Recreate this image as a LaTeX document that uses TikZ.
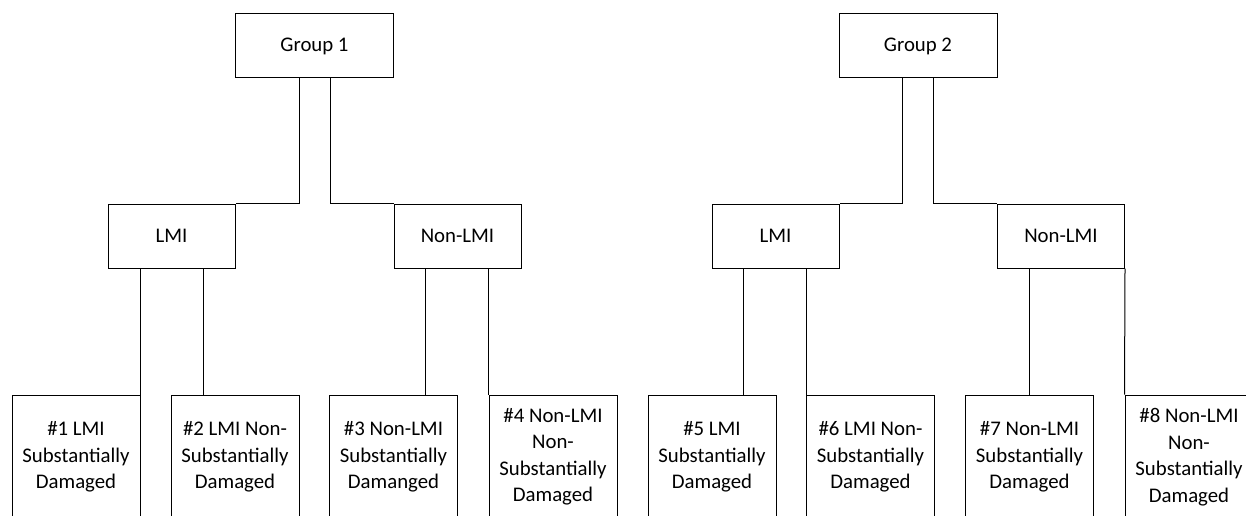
\documentclass[tikz,border=0pt]{standalone}
\usepackage{fontspec}
\setmainfont{Carlito}
\begin{document}
\begin{tikzpicture}[x=1pt,y=-1pt,
  box/.style={draw=black,line width=1pt,fill=white,inner sep=0pt,align=center,
    font=\fontsize{20.8}{26.5}\selectfont},
  topbox/.style={box,minimum width=158pt,minimum height=64pt},
  midbox/.style={box,minimum width=127pt,minimum height=64pt},
  leafbox/.style={box,minimum width=128pt,minimum height=124pt},
  conn/.style={draw=black,line width=1pt}]
\useasboundingbox (0,0) rectangle (1246,516);
\clip (0,0) rectangle (1246,516);
\fill[white] (0,0) rectangle (1246,516);
% top level
\node[topbox] (g1) at (314.5,46) {Group 1};
\node[topbox] (g2) at (918,46) {Group 2};
% middle level
\node[midbox] (lmi1) at (171.5,236) {LMI};
\node[midbox] (nl1) at (457.5,236) {Non-LMI};
\node[midbox] (lmi2) at (775.5,236) {LMI};
\node[midbox] (nl2) at (1061,236) {Non-LMI};
% leaves
\node[leafbox] (b1) at (76,457) {\#1 LMI\\Substantially\\Damaged};
\node[leafbox] (b2) at (235,457) {\#2 LMI Non-\\Substantially\\Damaged};
\node[leafbox] (b3) at (393.5,457) {\#3 Non-LMI\\Substantially\\Damanged};
\node[leafbox] (b4) at (553,457) {\#4 Non-LMI\\Non-\\Substantially\\Damaged};
\node[leafbox] (b5) at (712,457) {\#5 LMI\\Substantially\\Damaged};
\node[leafbox] (b6) at (870.5,457) {\#6 LMI Non-\\Substantially\\Damaged};
\node[leafbox] (b7) at (1029.5,457) {\#7 Non-LMI\\Substantially\\Damaged};
\node[leafbox] (b8) at (1189,457) {\#8 Non-LMI\\Non-\\Substantially\\Damaged};
% connectors group 1
\draw[conn] (g1.south) ++(-15.5,0) |- (lmi1.north east);
\draw[conn] (g1.south) ++(15.5,0) |- (nl1.north west);
\draw[conn] (g2.south) ++(-15.5,0) |- (lmi2.north east);
\draw[conn] (g2.south) ++(15.5,0) |- (nl2.north west);
% connectors to leaves
\draw[conn] (b1.north east |- lmi1.south) -- (b1.north east);
\draw[conn] (lmi1.south) ++(31.5,0) coordinate (c2) -- (c2 |- b2.north);
\draw[conn] (nl1.south) ++(-32.5,0) coordinate (c3) -- (c3 |- b3.north);
\draw[conn] (b4.north west |- nl1.south) -- (b4.north west);
\draw[conn] (lmi2.south) ++(-32.5,0) coordinate (c5) -- (c5 |- b5.north);
\draw[conn] (b6.north west |- lmi2.south) -- (b6.north west);
\draw[conn] (nl2.south) ++(-32,0) coordinate (c7) -- (c7 |- b7.north);
\draw[conn] (nl2.south east) -- (b8.north west);
\end{tikzpicture}
\end{document}
